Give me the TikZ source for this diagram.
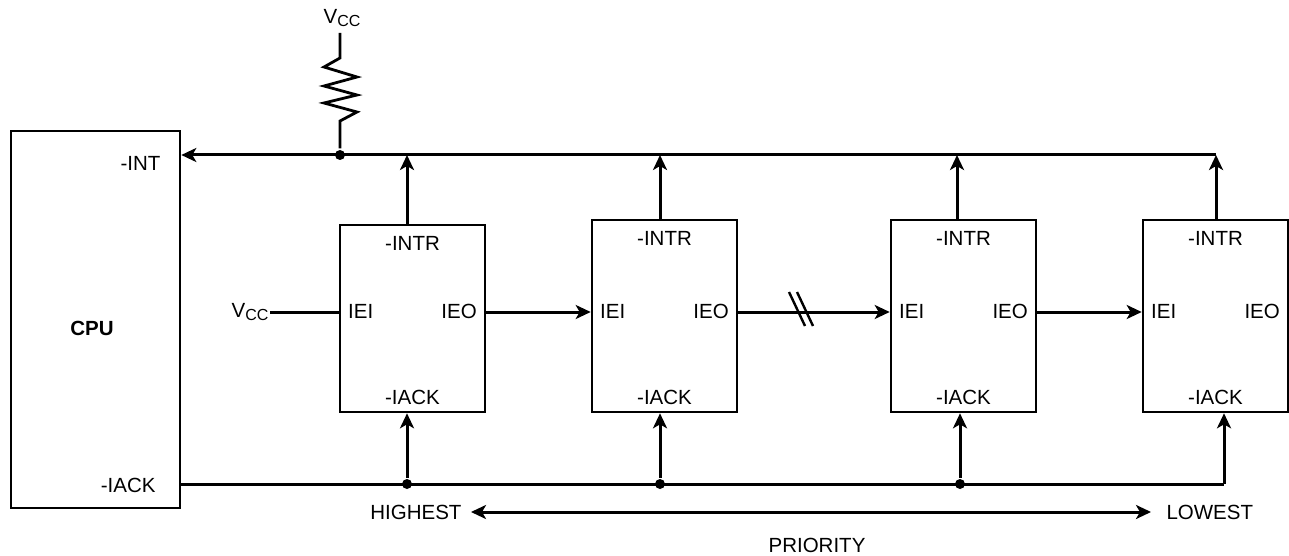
\documentclass[tikz,border=0pt]{standalone}
\usepackage{fontspec}
\setmainfont{Liberation Sans}
\usetikzlibrary{arrows.meta}
\newcommand{\vcc}{V\raisebox{-0.35ex}{\fontsize{16}{16}\selectfont CC}}
\begin{document}
\begin{tikzpicture}[x=1pt,y=-1pt, line width=3pt,
 blk/.style={draw, line width=2.6pt, rectangle, minimum width=145pt, inner sep=0pt},
 lbl/.style={font=\fontsize{20.5}{24}\selectfont, inner sep=0pt},
 arr/.style={-{Stealth[length=15pt,width=14pt,inset=4pt]}},
 dot/.style={circle, fill, inner sep=0pt, minimum size=10pt}]
\useasboundingbox (0,0) rectangle (1289,556);
% CPU
\node[blk, minimum width=169pt, minimum height=377pt] (cpu) at (95.5,319.5) {};
\node[lbl, font=\fontsize{20.5}{24}\selectfont\bfseries] (cpul) at (92,328) {CPU};
\node[lbl, anchor=east] (cpuint) at (162,163) {-INT};
\node[lbl, anchor=east] (cpuack) at (157,485) {-IACK};
% blocks
\node[blk, minimum height=187pt] (b1) at (412.5,318.5) {};
\node[blk, minimum height=192pt] (b2) at (664.5,316) {};
\node[blk, minimum height=192pt] (b3) at (963.5,316) {};
\node[blk, minimum height=192pt] (b4) at (1215.5,316) {};
\coordinate (chain) at (0,312);
\foreach \b in {b1,b2,b3,b4}{
  \node[lbl] (\b intr) at ([yshift=-20pt]\b.north) {-INTR};
  \node[lbl] (\b iack) at ([yshift=16pt]\b.south) {-IACK};
  \node[lbl, anchor=west] (\b iei) at ([xshift=8pt,yshift=1pt]\b.west |- chain) {IEI};
  \node[lbl, anchor=east] (\b ieo) at ([xshift=-8pt,yshift=1pt]\b.east |- chain) {IEO};
}
% INT bus
\coordinate (intend) at (1216,155);
\coordinate (rtop) at (340,33);
\coordinate (rjoin) at (340,155);
\draw[arr] (intend) -- (intend -| cpu.east);
\node[dot] (rdot) at (rjoin) {};
\node[lbl] (vcctop) at (342,18) {\vcc};
\draw[line width=2.8pt, line join=miter] (rtop) -- (340,58) -- (324,67) -- (357,77) -- (324,86) -- (357,95) -- (324,103) -- (357,112) -- (340,121) -- (rdot);
\draw[arr] ([xshift=-5.5pt]b1.north) -- ([xshift=-5.5pt]b1.north |- intend);
\draw[arr] ([xshift=-4.5pt]b2.north) -- ([xshift=-4.5pt]b2.north |- intend);
\draw[arr] ([xshift=-6.5pt]b3.north) -- ([xshift=-6.5pt]b3.north |- intend);
\draw[arr] ([xshift=0.5pt]b4.north) -- (intend);
% IEI / IEO chain
\node[lbl, anchor=east] (vccl) at (270,312) {\vcc};
\draw (vccl.east) -- (vccl.east -| b1.west);
\draw[arr] (b1.east |- chain) -- (b2.west |- chain);
\draw[arr] (b2.east |- chain) -- (b3.west |- chain);
\draw[arr] (b3.east |- chain) -- (b4.west |- chain);
\coordinate (s1a) at (789,292); \coordinate (s1b) at (805,326);
\coordinate (s2a) at (797,292); \coordinate (s2b) at (813,326);
\draw[line width=2.4pt] (s1a) -- (s1b);
\draw[line width=2.4pt] (s2a) -- (s2b);
% IACK bus
\coordinate (ackend) at (1224,484);
\draw (cpu.east |- ackend) -- (ackend);
\draw[arr] (ackend) -- (ackend |- b4.south);
\node[dot] (d1) at (407,484) {};
\node[dot] (d2) at (660,484) {};
\node[dot] (d3) at (960,484) {};
\draw[arr] (d1) -- (d1 |- b1.south);
\draw[arr] (d2) -- (d2 |- b2.south);
\draw[arr] (d3) -- (d3 |- b3.south);
% priority
\node[lbl, anchor=east] (high) at (463,512) {HIGHEST};
\node[lbl, anchor=west] (low) at (1165,512) {LOWEST};
\draw[{Stealth[length=15pt,width=14pt,inset=4pt]}-{Stealth[length=15pt,width=14pt,inset=4pt]}] ([xshift=8pt]high.east) -- ([xshift=-14pt]low.west);
\node[lbl] (prio) at (817,545) {PRIORITY};
\end{tikzpicture}
\end{document}
